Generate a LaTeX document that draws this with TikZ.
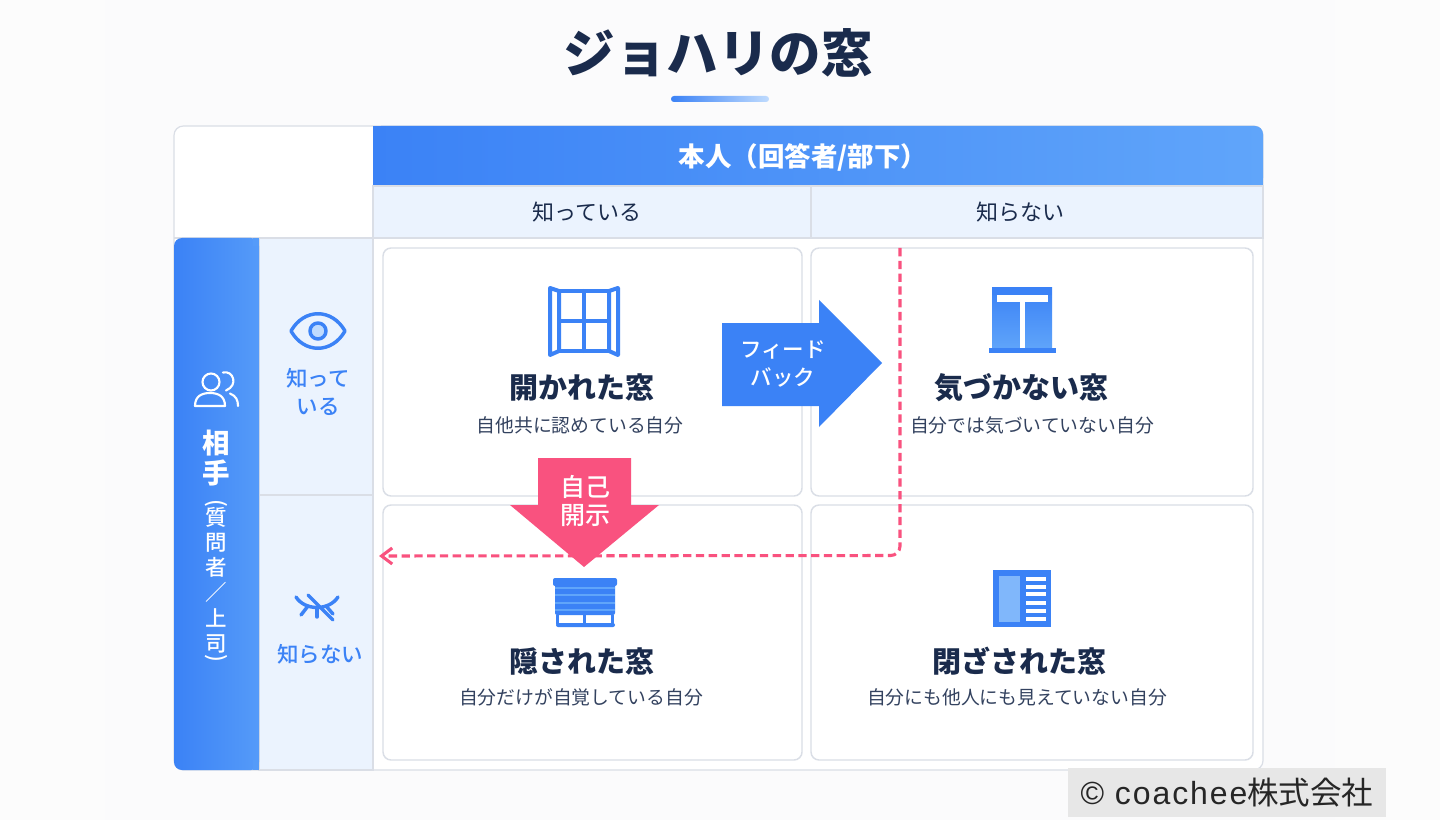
\documentclass[tikz,border=0pt]{standalone}
\usepackage{fontspec}
\setmainfont{Noto Sans CJK JP}
\newfontfamily\medf{Noto Sans CJK JP Medium}
\newfontfamily\latf[LetterSpace=6]{Liberation Sans}
\usetikzlibrary{arrows.meta}
\definecolor{navy}{HTML}{1A2B4C}
\definecolor{subtxt}{HTML}{33425F}
\definecolor{blueA}{HTML}{3B82F6}
\definecolor{blueB}{HTML}{60A5FA}
\definecolor{blueL}{HTML}{BFDBFE}
\definecolor{paleB}{HTML}{EBF3FE}
\definecolor{rim}{HTML}{DADEE6}
\definecolor{pinkC}{HTML}{F9527F}
\definecolor{bgC}{HTML}{FCFCFC}
\definecolor{bgD}{HTML}{FBFBFC}
\definecolor{markC}{HTML}{E7E7E7}
\newcommand{\fsl}[2]{\fontsize{\fpeval{#1*0.75}pt}{\fpeval{#2*0.75}pt}\selectfont}
\tikzset{
 x=0.75pt,y=-0.75pt,
 card/.style={draw=rim,line width=1.1pt,fill=white,rounded corners=6},
 pale/.style={fill=paleB,draw=rim,line width=0.8pt},
 cardtitle/.style={text=navy,font=\fsl{29}{32}\bfseries,inner sep=0pt},
 cardsub/.style={text=subtxt,font=\fsl{18.8}{22},inner sep=0pt},
 rowhead/.style={text=navy,font=\fsl{22}{26},inner sep=0pt},
 sidehead/.style={text=blueA,font=\medf\fsl{21.5}{28},align=center,inner sep=0pt},
 ico/.style={draw=blueA,line width=2.6pt,line join=round,line cap=round},
 winico/.style={draw=blueA,line width=3pt,line join=round,line cap=round},
 arrowtext/.style={text=white,align=center,inner sep=0pt},
 feedback/.style={draw=pinkC,line width=2.3pt,dash pattern=on 6.2pt off 3.4pt},
}
\begin{document}
\begin{tikzpicture}
\useasboundingbox (0,0) rectangle (1440,820);
\fill[bgC] (0,0) rectangle (1440,820);
\fill[bgD] (105,0) rectangle (1335,820);

% title
\node[text=navy,font=\fsl{51.5}{56}\bfseries,inner sep=0pt] (title) at (718,53) {ジョハリの窓};
\shade[left color=blueA,right color=blueL,rounded corners=2.2] (671,96) rectangle (769,102);

% table
\draw[fill=white,draw=rim,line width=0.9pt,rounded corners=7] (174,126) rectangle (1263,770);
\shade[left color=blueA,right color=blueB,rounded corners=6] (373,186) -- (373,126) -- (1263,126) -- (1263,186) -- cycle;
\fill[blueA] (373,186) rectangle (380,176);\fill[blueB] (1263,186) rectangle (1256,176);\fill[blueA] (373,126) rectangle (380,136);
\draw[pale] (373,186) rectangle (811,238);
\draw[pale] (811,186) rectangle (1263,238);
\draw[pale] (259,238) rectangle (373,495);
\draw[pale] (259,495) rectangle (373,770);
\draw[draw=rim,line width=0.8pt] (174,238) -- (373,238);
\shade[left color=blueA,right color=blueB!70!blueA,rounded corners=6] (259,238) -- (174,238) -- (174,770) -- (259,770) -- cycle;
\fill[blueB!70!blueA] (259,238) rectangle (253,246);\fill[blueB!70!blueA] (259,770) rectangle (253,760);

\node[text=white,font=\fsl{26.5}{30}\bfseries,inner sep=0pt] (hdrSelf) at (803,157) {本人（回答者/部下）};
\node[rowhead] (hdrKnow) at (587,212) {知っている};
\node[rowhead] (hdrUnk) at (1020,212) {知らない};

% cards
\draw[card] (383,248) rectangle (802,496);
\draw[card] (811,248) rectangle (1253,496);
\draw[card] (383,505) rectangle (802,760);
\draw[card] (811,505) rectangle (1253,760);

% side band
\draw[draw=white,line width=1.6pt,line join=round] (211,382) circle (8.5);
\draw[draw=white,line width=1.6pt,line join=round] (195,406) .. controls (195,396) and (202,393) .. (210,393) .. controls (218,393) and (225,396) .. (225,406) -- cycle;
\draw[draw=white,line width=1.6pt,line cap=round] (223,372.5) .. controls (233,370) and (239,385) .. (226,390.5);
\draw[draw=white,line width=1.6pt,line cap=round] (230,393.5) .. controls (236,396) and (238,400) .. (238,406);
\node[text=white,font=\fsl{27.5}{30}\bfseries,align=center,inner sep=0pt] (sideA) at (216,458) {相\\手};
\node[text=white,font=\medf\fsl{21.5}{25.2},align=center,inner sep=0pt] (sideB) at (216,580) {質\\問\\者\\／\\上\\司};
\node[text=white,font=\medf\fsl{22}{24},rotate=-90,inner sep=0pt] (parL) at (216,503) {(};
\node[text=white,font=\medf\fsl{22}{24},rotate=-90,inner sep=0pt] (parR) at (216,658) {)};

% eye
\draw[ico] (291,331) .. controls (304,308) and (332,308) .. (345,331) .. controls (332,354) and (304,354) .. (291,331) -- cycle;
\draw[ico,fill=blueL] (318,331) circle (8);
\node[sidehead] (knowTxt) at (318,392) {知って\\いる};
% closed eye
\draw[ico] (296,597) .. controls (305,611) and (329,611) .. (338,597);
\draw[ico] (308,606) -- (301,615);
\draw[ico] (317,608) -- (317,617);
\draw[ico] (326,606) -- (333,614);
\draw[ico] (308,595) -- (333,620);
\node[sidehead] (unkTxt) at (320,654) {知らない};

% open window icon
\draw[winico] (559,291) rectangle (609,351);
\draw[winico] (584,291) -- (584,351);
\draw[winico] (559,321) -- (609,321);
\draw[winico] (550,288) -- (559,291) -- (559,351) -- (550,355) -- cycle;
\draw[winico] (618,288) -- (609,291) -- (609,351) -- (618,355) -- cycle;
\node[cardtitle] (t1) at (582,388) {開かれた窓};
\node[cardsub] (s1) at (580,425) {自他共に認めている自分};

% unaware icon
\shade[top color=blueA,bottom color=blueB] (992,288) rectangle (1052,350);
\fill[blueA] (992,288) rectangle (1052,295);
\fill[blueA] (989,348) rectangle (1056,353);
\fill[white] (997,295) rectangle (1048,302);
\fill[white] (1020,302) rectangle (1025,348);
\node[cardtitle] (t2) at (1021,388) {気づかない窓};
\node[cardsub] (s2) at (1032,425) {自分では気づいていない自分};

% blind icon
\fill[blueA,rounded corners=1.5] (553,578) rectangle (617,586);
\fill[blueA,rounded corners=1.5] (555,584) rectangle (615,615);
\foreach \yy in {588,595,603,610}{\draw[blueB,line width=0.9pt] (555,\yy) -- (615,\yy);}
\fill[blueA,rounded corners=1.5] (556,623) rectangle (615,627);
\fill[blueA] (556,615) rectangle (559,624);
\fill[blueA] (583,615) rectangle (586,624);
\fill[blueA] (611,615) rectangle (614,624);
\node[cardtitle] (t3) at (582,661) {隠された窓};
\node[cardsub] (s3) at (581,697) {自分だけが自覚している自分};

% closed icon
\fill[blueA] (993,570) rectangle (1051,627);
\fill[blueB!80!white] (999,576) rectangle (1020,622);
\foreach \yy in {577,585,592,601,609,617}{\fill[white] (1026,\yy) rectangle (1046,\yy+4);}
\node[cardtitle] (t4) at (1019,661) {閉ざされた窓};
\node[cardsub] (s4) at (1017,697) {自分にも他人にも見えていない自分};

% dashed path
\coordinate (dashStart) at (900,248);
\coordinate (dashEnd) at (379,556);
\draw[feedback,rounded corners=7,-{Straight Barb[length=8pt,width=12pt,line width=2.3pt]}] (dashStart) -- (900,555.5) -- (dashEnd);

% feedback arrow
\fill[blueA] (722,323) -- (819,323) -- (819,300) -- (882,363) -- (819,427) -- (819,406) -- (722,406) -- cycle;
\node[arrowtext,font=\medf\fsl{21.5}{28}] (fbTxt) at (783,364) {フィード\\バック};

% disclosure arrow
\fill[pinkC] (538,458) -- (631,458) -- (631,505) -- (659,505) -- (584,567) -- (510,505) -- (538,505) -- cycle;
\node[arrowtext,font=\medf\fsl{25}{28}] (sdTxt) at (585,501) {自己\\開示};

% copyright
\fill[markC] (1068,768) rectangle (1386,817);
\node[text=black!85,font=\fsl{31.5}{36},inner sep=0pt] (mark) at (1227,793) {{\latf\fsl{32}{36}© coachee}株式会社};
\end{tikzpicture}
\end{document}
